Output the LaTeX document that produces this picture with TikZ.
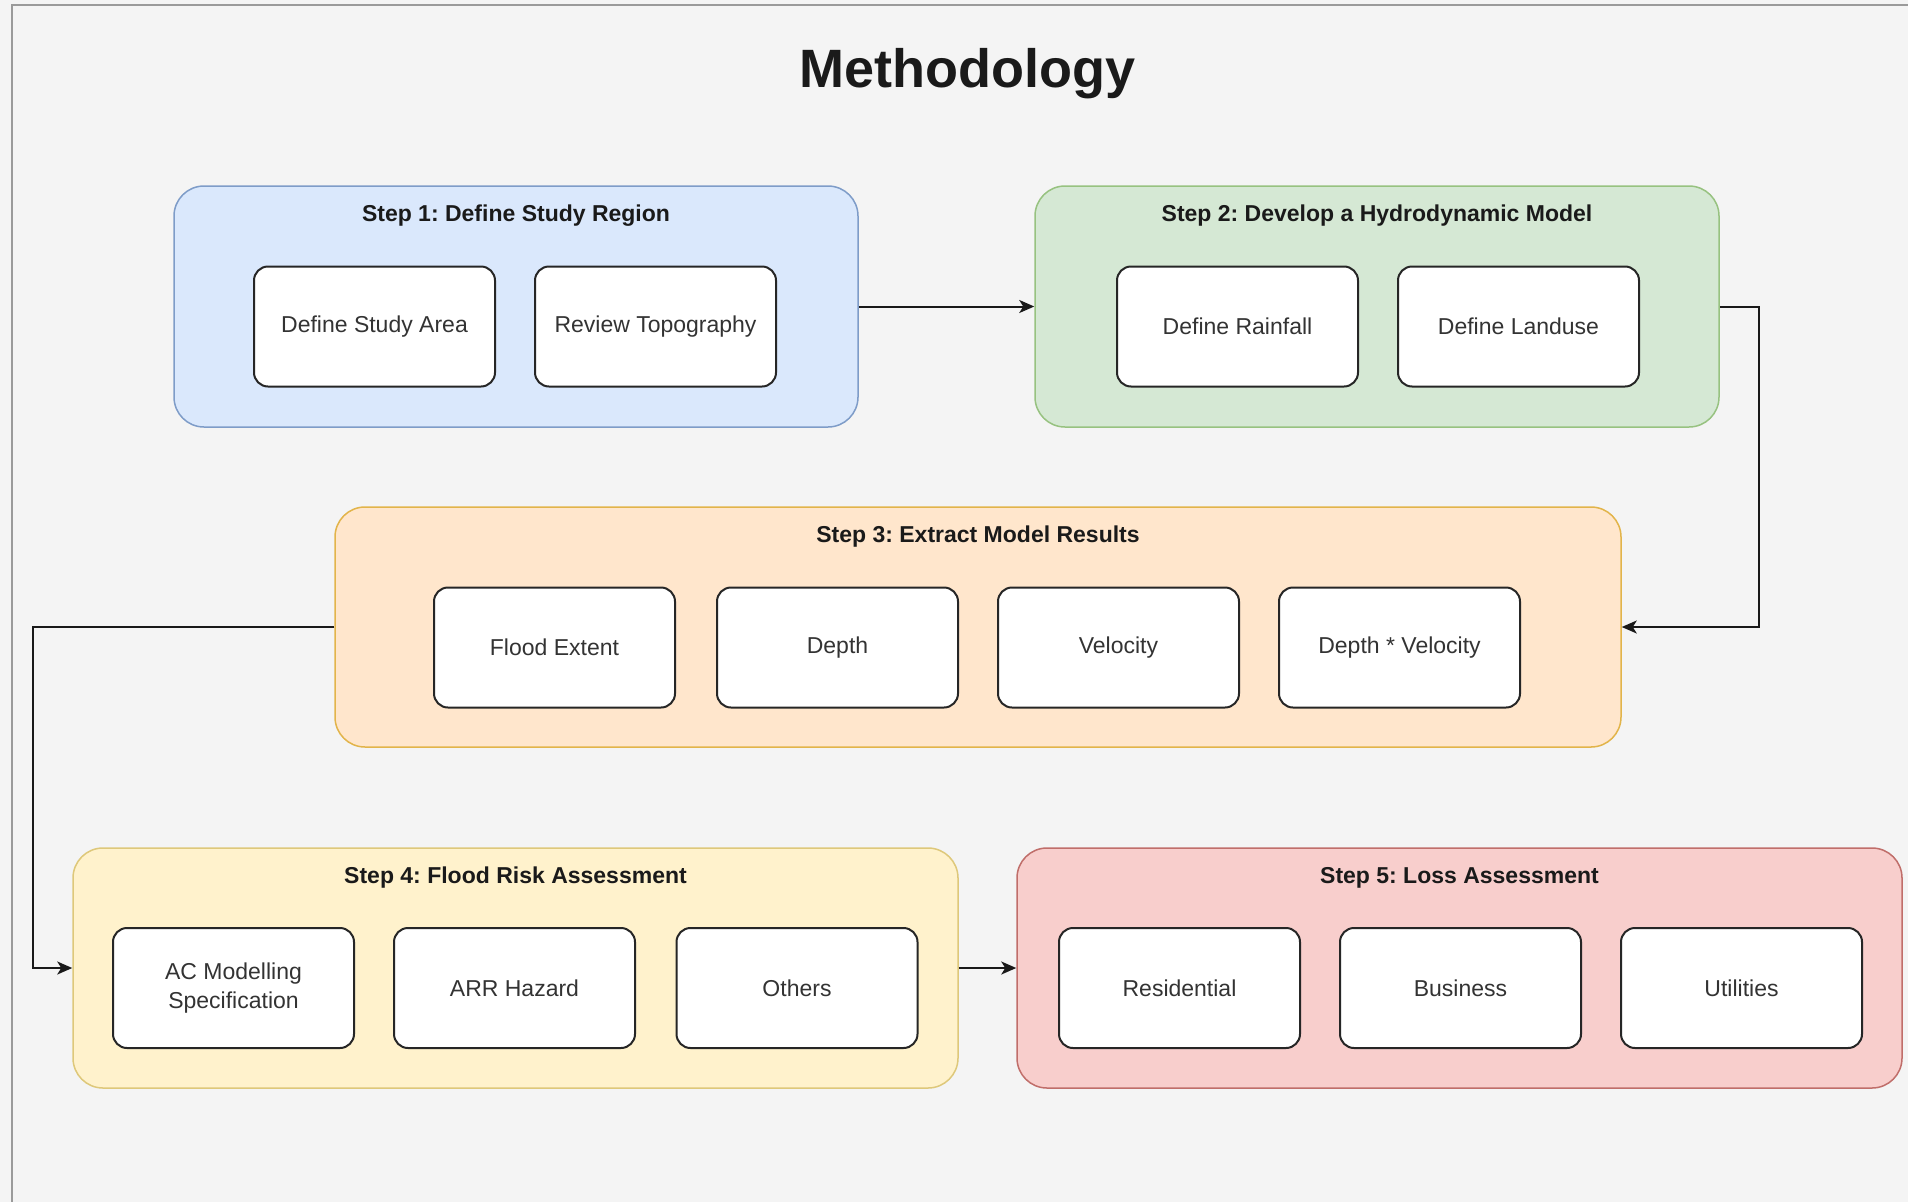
\documentclass[tikz,border=0pt]{standalone}
\usepackage{fontspec}
\setmainfont{Liberation Sans}
\usetikzlibrary{arrows.meta}
\frenchspacing
\definecolor{bg}{HTML}{F4F4F4}
\definecolor{framec}{HTML}{9A9A9A}
\definecolor{txt}{HTML}{333333}
\definecolor{ttl}{HTML}{1A1A1A}
\definecolor{bluef}{HTML}{DAE8FC}\definecolor{blued}{HTML}{7E9CC8}
\definecolor{greenf}{HTML}{D5E8D4}\definecolor{greend}{HTML}{97C280}
\definecolor{orangef}{HTML}{FFE6CC}\definecolor{oranged}{HTML}{E2B44A}
\definecolor{yellowf}{HTML}{FFF2CC}\definecolor{yellowd}{HTML}{DEC87A}
\definecolor{redf}{HTML}{F8CECC}\definecolor{redd}{HTML}{C06E6A}
\begin{document}
\begin{tikzpicture}[x=1pt,y=-1pt,
  container/.style={rounded corners=30pt, line width=1.5pt, inner sep=0pt, minimum width=#1, minimum height=241pt},
  item/.style={draw=black!85, fill=white, rounded corners=14pt, line width=2pt, minimum width=241pt, minimum height=120pt, inner sep=0pt, align=center, text=txt, font=\fontsize{23}{29}\selectfont},
  steptitle/.style={font=\fontsize{23}{27}\selectfont\bfseries, text=ttl, inner sep=0pt},
  conn/.style={line width=2pt, draw=black!90, -{Stealth[length=15pt,width=13pt,inset=4pt]}}
]
\useasboundingbox (0,0) rectangle (1908,1202);
\fill[bg] (0,0) rectangle (1908,1202);
\draw[framec, line width=2pt] (1908,5) -- (12,5) -- (12,1202);

\node[font=\fontsize{54}{62}\selectfont\bfseries, text=ttl, inner sep=0pt] (title) at (967,74) {Methodology};

% containers
\node[container=684pt, fill=bluef, draw=blued] (s1) at (516,306.5) {};
\node[container=684pt, fill=greenf, draw=greend] (s2) at (1377,306.5) {};
\node[container=1286pt, fill=orangef, draw=oranged, minimum height=240pt] (s3) at (978,627) {};
\node[container=885pt, fill=yellowf, draw=yellowd, minimum height=240pt] (s4) at (515.5,968) {};
\node[container=885pt, fill=redf, draw=redd, minimum height=240pt] (s5) at (1459.5,968) {};

% titles
\node[steptitle] (t1) at (516,215.5) {Step 1: Define Study Region};
\node[steptitle] (t2) at (1377,215.5) {Step 2: Develop a Hydrodynamic Model};
\node[steptitle] (t3) at (978,536.5) {Step 3: Extract Model Results};
\node[steptitle] (t4) at (515.5,877.5) {Step 4: Flood Risk Assessment};
\node[steptitle] (t5) at (1459.5,877.5) {Step 5: Loss Assessment};

% items
\node[item] (a1) at (374.5,326.5) {Define Study Area};
\node[item] (a2) at (655.5,326.5) {Review Topography};
\node[item] (b1) at (1237.5,326.5) {Define Rainfall};
\node[item] (b2) at (1518.5,326.5) {Define Landuse};
\node[item] (c1) at (554.5,647.5) {Flood Extent};
\node[item] (c2) at (837.5,647.5) {Depth};
\node[item] (c3) at (1118.5,647.5) {Velocity};
\node[item] (c4) at (1399.5,647.5) {Depth * Velocity};
\node[item] (d1) at (233.5,988) {AC Modelling\\Specification};
\node[item] (d2) at (514.5,988) {ARR Hazard};
\node[item] (d3) at (797,988) {Others};
\node[item] (e1) at (1179.5,988) {Residential};
\node[item] (e2) at (1460.5,988) {Business};
\node[item] (e3) at (1741.5,988) {Utilities};

% connectors
\coordinate (r2) at (1759,306.5);
\coordinate (l3) at (33,627);
\draw[conn] (s1.east) -- (s2.west);
\draw[conn] (s2.east) -- (r2) |- (s3.east);
\draw[conn] (s3.west) -- (l3) |- (s4.west);
\draw[conn] (s4.east) -- (s5.west);
\end{tikzpicture}
\end{document}
